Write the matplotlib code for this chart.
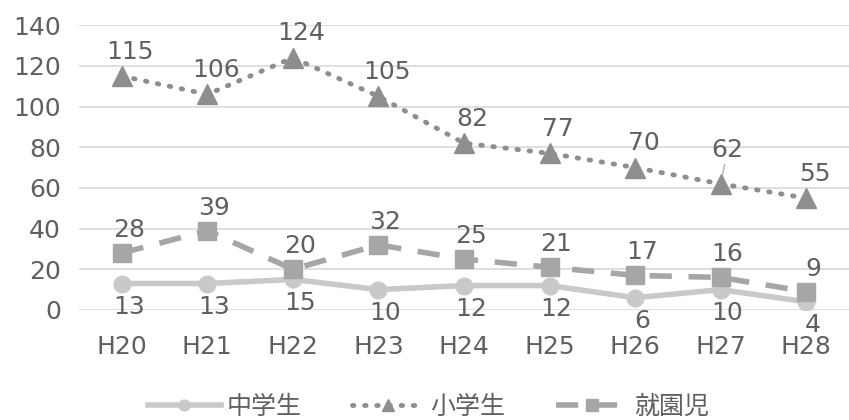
import matplotlib
matplotlib.use("Agg")
import matplotlib.pyplot as plt

plt.rcParams['font.family'] = ['DejaVu Sans', 'Noto Sans CJK JP']

years = ["H20", "H21", "H22", "H23", "H24", "H25", "H26", "H27", "H28"]
junior_high = [13, 13, 15, 10, 12, 12, 6, 10, 4]
elementary = [115, 106, 124, 105, 82, 77, 70, 62, 55]
preschool = [28, 39, 20, 32, 25, 21, 17, 16, 9]

text_col = "#606060"
fs = 18
fig = plt.figure(figsize=(8.49, 4.2), dpi=100)
ax = fig.add_axes([0.093, 0.262, 0.907, 0.678])

x = range(len(years))
l1, = ax.plot(x, junior_high, color="#c9c9c9", lw=4, marker="o", ms=12,
              label="中学生", zorder=3)
l2, = ax.plot(x, elementary, color="#8e8e90", lw=3.5, ls=(0, (0.3, 2.2)),
              dash_capstyle="round", marker="^", ms=14, label="小学生", zorder=3)
l3, = ax.plot(x, preschool, color="#a6a6a8", lw=4, ls=(0, (4, 3)),
              marker="s", ms=13, label="就園児", zorder=3)

for i, v in enumerate(elementary):
    if years[i] == "H27":
        # this label sits slightly off, with a short leader line
        ax.annotate(str(v), (i, v), xytext=(5, 16), textcoords="offset points",
                    ha="center", va="bottom", fontsize=fs, color=text_col,
                    arrowprops=dict(arrowstyle="-", color="#b0b0b0", lw=1,
                                    shrinkA=0, shrinkB=6))
    else:
        ax.annotate(str(v), (i, v), xytext=(6, 9), textcoords="offset points",
                    ha="center", va="bottom", fontsize=fs, color=text_col)
for i, v in enumerate(preschool):
    ax.annotate(str(v), (i, v), xytext=(5, 8), textcoords="offset points",
                ha="center", va="bottom", fontsize=fs, color=text_col)
for i, v in enumerate(junior_high):
    ax.annotate(str(v), (i, v), xytext=(5, -8), textcoords="offset points",
                ha="center", va="top", fontsize=fs, color=text_col)

ax.set_xlim(-0.5, len(years) - 0.5)
ax.set_ylim(0, 140)
ax.set_yticks(range(0, 141, 20))
ax.set_xticks(list(x))
ax.set_xticklabels(years)
ax.tick_params(length=0, labelsize=fs, labelcolor=text_col)
ax.tick_params(axis="x", pad=18)
ax.tick_params(axis="y", pad=13)
ax.grid(axis="y", color="#d9d9d9", lw=1.2)
ax.set_axisbelow(True)
for s in ax.spines.values():
    s.set_visible(False)

fig.legend(handles=[l1, l2, l3], loc="lower center", bbox_to_anchor=(0.505, -0.05),
           ncol=3, frameon=False, fontsize=fs, labelcolor=text_col,
           handlelength=2.9, handletextpad=0.25, columnspacing=2.0, markerscale=0.65)

fig.savefig("out.png", dpi=100)
